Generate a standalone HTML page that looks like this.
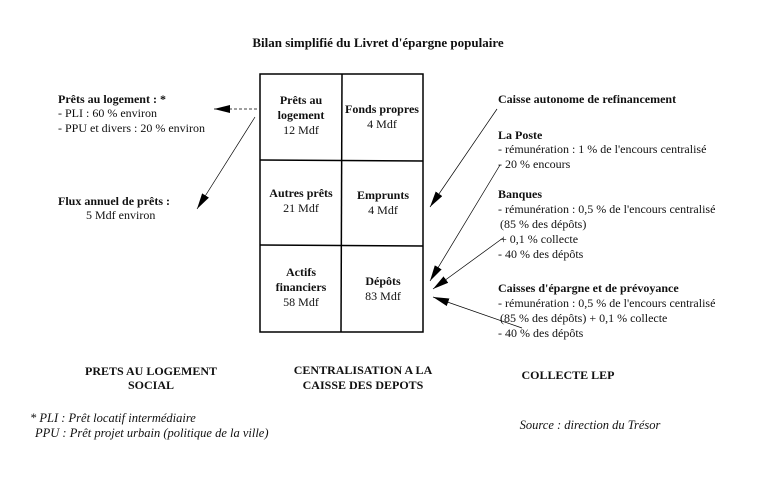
<!DOCTYPE html>
<html><head><meta charset="utf-8"><style>
body{margin:0;background:#fff}
svg{display:block}
text{font-family:"Liberation Serif",serif;font-size:12px;fill:#111}
.b{font-weight:bold}
.c{text-anchor:middle}
.i{font-style:italic}
</style></head><body>
<svg width="775" height="484" viewBox="0 0 775 484">
<defs><marker id="a" markerWidth="16" markerHeight="8" refX="16" refY="4" orient="auto" markerUnits="userSpaceOnUse"><path d="M0,0 L16,4 L0,8 z" fill="#000"/></marker></defs>
<text x="378" y="47" class="b c" style="font-size:13px">Bilan simplifié du Livret d'épargne populaire</text>
<g fill="none" stroke="#000" stroke-width="1.5">
<rect x="260" y="74" width="163" height="258"/>
<line x1="342" y1="74" x2="341" y2="332"/>
<line x1="260" y1="160" x2="423" y2="161"/>
<line x1="260" y1="245" x2="423" y2="246"/>
</g>
<g>
<text x="301" y="104" class="b c">Prêts au</text><text x="301" y="119" class="b c">logement</text><text x="301" y="134" class="c">12 Mdf</text>
<text x="382" y="113" class="b c">Fonds propres</text><text x="382" y="128" class="c">4 Mdf</text>
<text x="301" y="197" class="b c">Autres prêts</text><text x="301" y="212" class="c">21 Mdf</text>
<text x="383" y="199" class="b c">Emprunts</text><text x="383" y="214" class="c">4 Mdf</text>
<text x="301" y="276" class="b c">Actifs</text><text x="301" y="291" class="b c">financiers</text><text x="301" y="306" class="c">58 Mdf</text>
<text x="383" y="285" class="b c">Dépôts</text><text x="383" y="300" class="c">83 Mdf</text>
</g>
<text x="58" y="103" class="b">Prêts au logement : *</text>
<text x="58" y="117">- PLI : 60 % environ</text>
<text x="58" y="132">- PPU et divers : 20 % environ</text>
<text x="58" y="205" class="b">Flux annuel de prêts :</text>
<text x="86" y="219">5 Mdf environ</text>
<text x="498" y="103" class="b">Caisse autonome de refinancement</text>
<text x="498" y="139" class="b">La Poste</text>
<text x="498" y="153">- rémunération : 1 % de l'encours centralisé</text>
<text x="498" y="168">- 20 % encours</text>
<text x="498" y="198" class="b">Banques</text>
<text x="498" y="213">- rémunération : 0,5 % de l'encours centralisé</text>
<text x="500" y="228">(85 % des dépôts)</text>
<text x="500" y="243">+ 0,1 % collecte</text>
<text x="498" y="258">- 40 % des dépôts</text>
<text x="498" y="292" class="b">Caisses d'épargne et de prévoyance</text>
<text x="498" y="307">- rémunération : 0,5 % de l'encours centralisé</text>
<text x="500" y="322">(85 % des dépôts) + 0,1 % collecte</text>
<text x="498" y="337">- 40 % des dépôts</text>
<g stroke="#000" stroke-width="0.7" fill="none" marker-end="url(#a)">
<line x1="257" y1="109" x2="214" y2="109" stroke-dasharray="3,2"/>
<line x1="255" y1="117" x2="197" y2="209"/>
<line x1="497" y1="109" x2="430" y2="207"/>
<line x1="500" y1="165" x2="430" y2="281"/>
<line x1="503" y1="238" x2="433" y2="289"/>
<line x1="522" y1="328" x2="433" y2="297"/>
</g>
<text x="151" y="375" class="b c" style="font-size:12px">PRETS AU LOGEMENT</text>
<text x="151" y="389" class="b c" style="font-size:12px">SOCIAL</text>
<text x="363" y="374" class="b c" style="font-size:12px">CENTRALISATION A LA</text>
<text x="363" y="389" class="b c" style="font-size:12px">CAISSE DES DEPOTS</text>
<text x="568" y="379" class="b c" style="font-size:12px">COLLECTE LEP</text>
<text x="30" y="422" class="i" style="font-size:12.5px">* PLI : Prêt locatif intermédiaire</text>
<text x="35" y="437" class="i" style="font-size:12.5px">PPU : Prêt projet urbain (politique de la ville)</text>
<text x="590" y="429" class="i c" style="font-size:12.5px">Source : direction du Trésor</text>
</svg>
</body></html>
